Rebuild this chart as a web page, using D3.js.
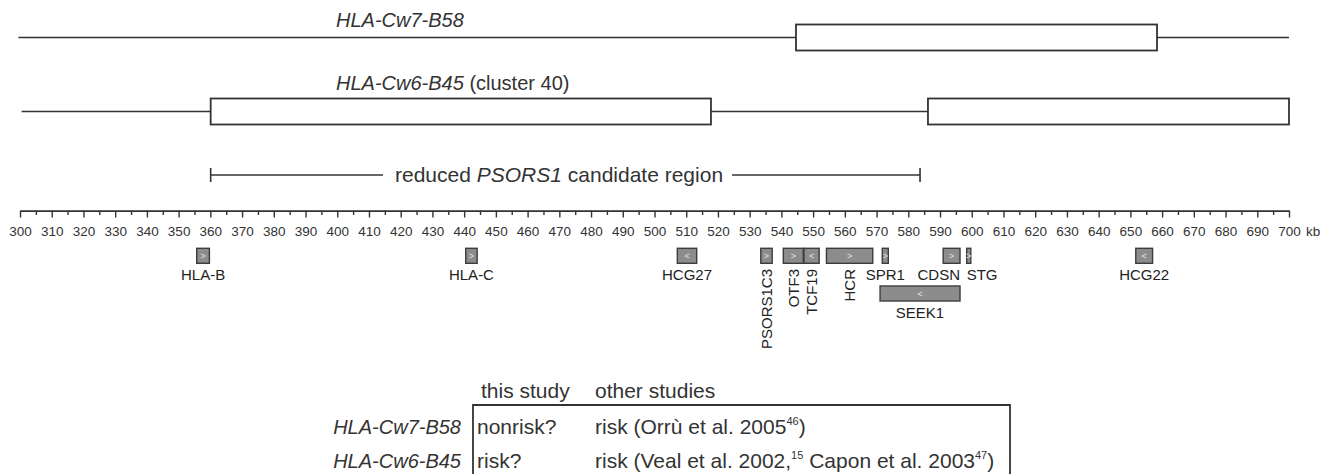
<!DOCTYPE html>
<html>
<head>
<meta charset="utf-8">
<script src="https://cdn.jsdelivr.net/npm/d3@7/dist/d3.min.js"></script>
<style>
  body { margin: 0; background: #fff; }
  svg { display: block; font-family: "Liberation Sans", Arial, sans-serif; }
</style>
</head>
<body>
<svg id="chart"></svg>
<script>
// haplotypes (kb)
var hapNames = ["HLA-Cw7-B58", "HLA-Cw6-B45"];
var hapNotes = ["", "(cluster 40)"];
var hapLineStart = [299.5, 300.5];
var hapLineEnd = [700, 700];
var hapBlocks = [
    [[544.6, 658.4]],
    [[360.1, 517.8], [586.2, 700]]
];

// reduced candidate region (kb)
var regionStart = 360.1, regionEnd = 583.7;

// ruler
var majorTicks = [300, 310, 320, 330, 340, 350, 360, 370, 380, 390, 400, 410, 420, 430, 440,
    450, 460, 470, 480, 490, 500, 510, 520, 530, 540, 550, 560, 570, 580, 590, 600,
    610, 620, 630, 640, 650, 660, 670, 680, 690, 700];

// genes (kb)
var geneNames = ["HLA-B", "HLA-C", "HCG27", "PSORS1C3", "OTF3", "TCF19", "HCR", "SPR1", "CDSN", "STG", "SEEK1", "HCG22"];
var geneStart = [355.7, 440.5, 507.2, 533.5, 540.6, 547.1, 554.2, 571.8, 591.0, 598.4, 571.1, 651.7];
var geneEnd   = [359.7, 444.1, 513.3, 537.1, 546.9, 551.9, 568.8, 573.7, 596.3, 599.7, 596.3, 657.0];
var geneStrand = [">", ">", "<", ">", ">", "<", ">", ">", ">", ">", "<", "<"];

// table
var tableHeads = ["this study", "other studies"];
var tableRows = ["HLA-Cw7-B58", "HLA-Cw6-B45"];
var thisStudy = ["nonrisk?", "risk?"];
var otherStudies = [
    [["risk (Orrù et al. 2005", ""], ["46", "sup"], [")", ""]],
    [["risk (Veal et al. 2002,", ""], ["15", "sup"], [" Capon et al. 2003", ""], ["47", "sup"], [")", ""]]
];

var W = 1326, H = 474;
var ink = "#333";

var svg = d3.select("#chart").attr("width", W).attr("height", H);
svg.append("rect").attr("width", W).attr("height", H).attr("fill", "#fff");

var x = d3.scaleLinear().domain([300, 700]).range([20, 1289]);

// --- haplotype rows
var rowY = [37.5, 111.5], boxH = 26;
var titleY = [27, 90];

hapNames.forEach(function(name, i) {
    var g = svg.append("g");
    var blocks = hapBlocks[i];
    var segs = [];
    var cur = hapLineStart[i];
    blocks.forEach(function(b) { segs.push([cur, b[0]]); cur = b[1]; });
    if (hapLineEnd[i] > cur) segs.push([cur, hapLineEnd[i]]);

    g.selectAll("line").data(segs).enter().append("line")
        .attr("x1", function(d) { return x(d[0]); })
        .attr("x2", function(d) { return x(d[1]); })
        .attr("y1", rowY[i]).attr("y2", rowY[i])
        .attr("stroke", ink).attr("stroke-width", 1.6);

    g.selectAll("rect").data(blocks).enter().append("rect")
        .attr("x", function(d) { return x(d[0]); })
        .attr("width", function(d) { return x(d[1]) - x(d[0]); })
        .attr("y", rowY[i] - boxH / 2).attr("height", boxH)
        .attr("fill", "#fff").attr("stroke", ink).attr("stroke-width", 1.8);

    var t = g.append("text").attr("x", 336).attr("y", titleY[i])
        .attr("font-size", 20).attr("fill", ink);
    t.append("tspan").attr("font-style", "italic").text(name);
    if (hapNotes[i]) t.append("tspan").text(" " + hapNotes[i]);
});

// --- candidate region bracket
var regY = 175;
var reg = svg.append("g");
var regText = reg.append("text").attr("x", 395).attr("y", regY + 7)
    .attr("font-size", 21).attr("fill", ink);
regText.append("tspan").text("reduced ");
regText.append("tspan").attr("font-style", "italic").text("PSORS1");
regText.append("tspan").text(" candidate region");
var tw = regText.node().getComputedTextLength();
reg.append("line").attr("x1", x(regionStart)).attr("x2", 383)
    .attr("y1", regY).attr("y2", regY).attr("stroke", ink).attr("stroke-width", 1.6);
reg.append("line").attr("x1", 395 + tw + 9).attr("x2", x(regionEnd))
    .attr("y1", regY).attr("y2", regY).attr("stroke", ink).attr("stroke-width", 1.6);
[regionStart, regionEnd].forEach(function(v) {
    reg.append("line").attr("x1", x(v)).attr("x2", x(v))
        .attr("y1", regY - 7).attr("y2", regY + 7)
        .attr("stroke", ink).attr("stroke-width", 1.6);
});

// --- ruler
var axisY = 210.7;
var minorTicks = majorTicks.slice(0, -1).map(function(v) { return v + 5; });

var minorAxis = svg.append("g").attr("transform", "translate(0," + axisY + ")")
    .call(d3.axisBottom(x).tickValues(minorTicks).tickSize(4.3).tickSizeOuter(0).tickFormat(""));
var majorAxis = svg.append("g").attr("transform", "translate(0," + axisY + ")")
    .call(d3.axisBottom(x).tickValues(majorTicks).tickSize(6.8).tickSizeOuter(0).tickPadding(8.5));

[minorAxis, majorAxis].forEach(function(a) {
    a.select(".domain").attr("stroke", ink).attr("stroke-width", 1.6);
    a.selectAll(".tick line").attr("stroke", ink).attr("stroke-width", 1.4);
});
majorAxis.selectAll(".tick text")
    .attr("font-size", 13.5).attr("fill", ink)
    .attr("font-family", "\"Liberation Sans\", Arial, sans-serif");
svg.append("text").attr("x", x(700) + 17).attr("y", 235.5)
    .attr("font-size", 13.5).attr("fill", ink).text("kb");

// --- genes
var trackY = [248.3, 286];
var geneH = 15;
var secondTrack = { "SEEK1": 1 };
var verticalLabel = { "PSORS1C3": 1, "OTF3": 1, "TCF19": 1, "HCR": 1 };
var labelAnchor = { "CDSN": "end", "STG": "start" };

var genes = geneNames.map(function(n, i) {
    return { name: n, s: geneStart[i], e: geneEnd[i], strand: geneStrand[i],
             track: secondTrack[n] ? 1 : 0 };
});

var gg = svg.append("g").selectAll("g").data(genes).enter().append("g");

gg.append("rect")
    .attr("x", function(d) { return x(d.s); })
    .attr("width", function(d) { return x(d.e) - x(d.s); })
    .attr("y", function(d) { return trackY[d.track]; })
    .attr("height", geneH)
    .attr("fill", "#8c8c8c").attr("stroke", "#3c3c3c").attr("stroke-width", 1.4);

gg.append("text")
    .attr("x", function(d) { return (x(d.s) + x(d.e)) / 2; })
    .attr("y", function(d) { return trackY[d.track] + geneH / 2 + 3; })
    .attr("text-anchor", "middle").attr("font-size", 9).attr("fill", "#e6e6e6")
    .text(function(d) { return d.strand; });

gg.append("text")
    .attr("font-size", 15).attr("fill", "#222")
    .attr("text-anchor", function(d) {
        if (verticalLabel[d.name]) return "end";
        return labelAnchor[d.name] || "middle";
    })
    .attr("transform", function(d) {
        var cx = (x(d.s) + x(d.e)) / 2;
        if (verticalLabel[d.name]) return "translate(" + (cx + 5.5) + ",269) rotate(-90)";
        var lx = cx;
        if (labelAnchor[d.name] === "end") lx = x(d.e);
        if (labelAnchor[d.name] === "start") lx = x(d.s);
        var ly = trackY[d.track] + geneH + 16.5;
        return "translate(" + lx + "," + ly + ")";
    })
    .text(function(d) { return d.name; });

// --- table
var tab = svg.append("g").attr("font-size", 21).attr("fill", ink);
var colX = [477, 595], headY = 398, boxTop = 405, boxLeft = 473, boxRight = 1010;
var rowBase = [434, 468];

tab.selectAll("text.head").data(tableHeads).enter().append("text")
    .attr("class", "head")
    .attr("x", function(d, i) { return i === 0 ? 481 : colX[1]; })
    .attr("y", headY).text(function(d) { return d; });

tab.append("path")
    .attr("d", "M" + boxLeft + "," + (H + 2) + "V" + boxTop + "H" + boxRight + "V" + (H + 2))
    .attr("fill", "none").attr("stroke", ink).attr("stroke-width", 1.8);

tableRows.forEach(function(r, i) {
    tab.append("text").attr("x", 461).attr("y", rowBase[i])
        .attr("text-anchor", "end").attr("font-size", 20).attr("font-style", "italic")
        .text(r);
    tab.append("text").attr("x", colX[0]).attr("y", rowBase[i]).text(thisStudy[i]);
    var t = tab.append("text").attr("x", colX[1]).attr("y", rowBase[i]);
    otherStudies[i].forEach(function(p) {
        if (p[1] === "sup") {
            t.append("tspan").attr("font-size", 11).attr("dy", -9).text(p[0]);
        } else {
            var sp = t.append("tspan").text(p[0]);
            if (t.node().childNodes.length > 1) sp.attr("dy", 9);
        }
    });
});
</script>
</body>
</html>
